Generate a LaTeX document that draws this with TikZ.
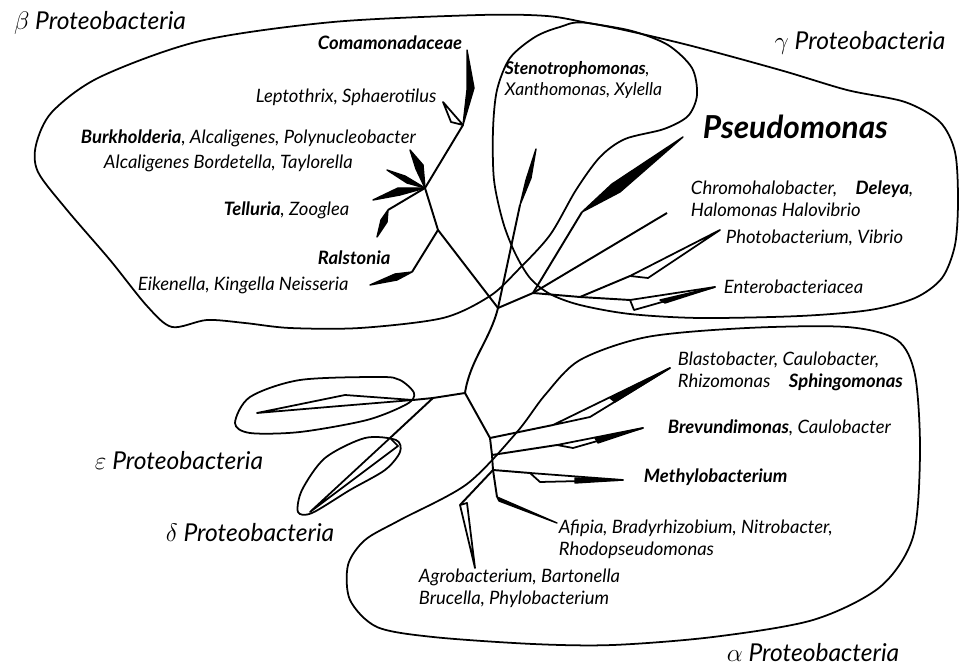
\documentclass[tikz,border=0pt]{standalone}
\usepackage{fontspec}
\setmainfont{Lato}

\begin{document}
\begin{tikzpicture}[x=0.02cm,y=-0.02cm,line width=1.1pt,line join=round,
  contorno/.style={line width=1pt},
  rama/.style={line width=1.1pt},
  cuna/.style={fill=black,line width=0.8pt},
  cunab/.style={fill=white,line width=1pt},
  especie/.style={font=\fontsize{10.5}{12.5}\selectfont\itshape,inner sep=0pt,anchor=west,align=left},
  grupo/.style={font=\fontsize{14}{16}\selectfont\itshape,inner sep=0pt}]
  \useasboundingbox (0,0) rectangle (960,668);
  % contornos de los grupos
  \draw[contorno] plot[smooth cycle] coordinates {(480,15) (547,16) (588,23) (632,31) (668,45) (692,68) (697,95) (688,116) (664,129) (625,139) (600,157) (576,190) (550,235) (518,270) (490,296) (443,318) (360,328) (290,328) (245,323) (207,320) (172,327) (147,306) (110,260) (67,210) (38,172) (36,145) (52,112) (100,77) (200,41) (333,22)};
  \draw[contorno] plot[smooth cycle] coordinates {(588,23) (680,43) (780,70) (847,90) (905,102) (940,122) (955,152) (958,200) (955,245) (942,278) (915,298) (870,310) (800,316) (700,318) (630,314) (580,305) (550,294) (530,278) (515,253) (503,222) (494,180) (493,130) (497,90) (510,58) (535,37) (560,27)};
  \draw[contorno] plot[smooth cycle] coordinates {(580,360) (647,337) (747,328) (847,327) (897,340) (915,375) (920,453) (913,537) (880,587) (813,620) (713,637) (613,645) (533,644) (433,637) (377,627) (350,600) (348,565) (365,540) (400,520) (467,484) (517,432) (545,395)};
  \draw[contorno] plot[smooth cycle] coordinates {(414,393) (400,380) (380,377) (300,380) (250,397) (235,423) (250,433) (300,432) (367,420) (407,404)};
  \draw[contorno] plot[smooth cycle] coordinates {(396,440) (365,438) (325,458) (302,490) (298,512) (312,513) (350,490) (385,470) (400,452)};

  % nodos internos
  \coordinate (kC) at (463,125);
  \coordinate (kB) at (425,188);
  \coordinate (kR) at (438,230);
  \coordinate (raiz) at (498,308);
  \coordinate (kG) at (533,293);
  \coordinate (kF) at (580,297);
  \coordinate (kA) at (465,393);
  \coordinate (kED) at (433,398);
  \coordinate (kE) at (413,400);
  \coordinate (kD) at (390,438);
  \coordinate (a1) at (490,438);
  \coordinate (a2) at (492,455);
  \coordinate (a3) at (493,470);
  \coordinate (a4) at (497,497);
  % codos y puntas
  \coordinate (cZoo) at (388,210);
  \coordinate (cRal) at (412,272);
  \coordinate (cSte) at (520,205);
  \coordinate (cPse) at (582,212);
  \coordinate (cPho) at (630,276);
  \coordinate (cEnt) at (630,300);
  \coordinate (cSph) at (553,425);
  \coordinate (cBre) at (557,445);
  \coordinate (cMet) at (530,473);
  \coordinate (cAgr) at (460,505);
  \coordinate (tChr) at (667,213);

  % ramas
  \draw[rama] (kC) -- (kB) -- (kR) -- (raiz) -- (kG) -- (kF) -- (cEnt);
  \draw[rama] (raiz) .. controls (490,340) and (470,360) .. (kA);
  \draw[rama] (kA) -- (kED) -- (kE);
  \draw[rama] (kED) -- (kD);
  \draw[rama] (kA) -- (a1) -- (a2) -- (a3) -- (a4);
  \draw[rama] (kB) -- (cZoo);
  \draw[rama] (kR) -- (cRal);
  \draw[rama] (raiz) -- (cSte);
  \draw[rama] (kG) -- (cPse);
  \draw[rama] (kG) -- (tChr);
  \draw[rama] (kF) -- (cPho);
  \draw[rama] (a1) -- (cSph);
  \draw[rama] (a2) -- (cBre);
  \draw[rama] (a3) -- (cMet);
  \draw[rama] (a3) -- (cAgr);

  % clados beta
  \filldraw[cuna] (kC) -- (474,88) -- (467,50) -- (467,90) -- cycle;
  \filldraw[cunab] (kC) -- (443,102) -- (451,122) -- cycle;
  \filldraw[cuna] (kB) -- (423,165) -- (410,150) -- (416,169) -- cycle;
  \filldraw[cuna] (kB) -- (405,176) -- (387,170) -- (407,183) -- cycle;
  \filldraw[cuna] (kB) -- (398,188) -- (373,200) -- (400,195) -- cycle;
  \filldraw[cuna] (cZoo) -- (387,222) -- (377,237) -- (381,220) -- cycle;
  \filldraw[cuna] (cRal) -- (395,274) -- (370,285) -- (397,280) -- cycle;
  % clados gamma
  \filldraw[cuna] (cSte) -- (531,178) -- (536,149) -- (526,180) -- cycle;
  \filldraw[cuna] (cPse) -- (612,184) -- (683,137) -- (620,192) -- cycle;
  \filldraw[cunab] (cPho) -- (720,230) -- (648,278) -- cycle;
  \filldraw[cunab] (cEnt) -- (715,287) -- (634,310) -- cycle;
  \filldraw[cuna] (660,300) -- (715,287) -- (665,303) -- cycle;
  % clados epsilon y delta
  \filldraw[cunab] (kE) -- (345,395) -- (257,413) -- (340,406) -- cycle;
  \filldraw[cunab] (kD) -- (310,512) -- (398,446) -- cycle;
  % clados alfa
  \filldraw[cunab] (cSph) -- (670,368) -- (590,417) -- cycle;
  \filldraw[cuna] (610,398) -- (670,368) -- (615,402) -- cycle;
  \filldraw[cunab] (cBre) -- (643,428) -- (573,448) -- cycle;
  \filldraw[cuna] (595,438) -- (643,428) -- (598,443) -- cycle;
  \filldraw[cunab] (cMet) -- (623,480) -- (540,482) -- cycle;
  \filldraw[cuna] (575,478) -- (623,480) -- (575,483) -- cycle;
  \filldraw[cuna] (a4) -- (557,523) -- (499,501) -- cycle;
  \filldraw[cunab] (cAgr) -- (475,568) -- (467,503) -- cycle;

  % nombres de los grupos
  \node[grupo] (gBeta) at (100,23) {$\beta$ Proteobacteria};
  \node[grupo] (gGamma) at (860,43) {$\gamma$ Proteobacteria};
  \node[grupo] (gEps) at (179,461) {$\varepsilon$ Proteobacteria};
  \node[grupo] (gDel) at (250,533) {$\delta$ Proteobacteria};
  \node[grupo] (gAlf) at (813,653) {$\alpha$ Proteobacteria};

  % especies
  \node[especie] (lCom) at (317,43) {\textbf{Comamonadaceae}};
  \node[especie] (lLep) at (255,97) {Leptothrix, Sphaerotilus};
  \node[especie] (lBur) at (80,138) {\textbf{Burkholderia}, Alcaligenes, Polynucleobacter};
  \node[especie] (lAlc) at (103,163) {Alcaligenes Bordetella, Taylorella};
  \node[especie] (lTel) at (223,210) {\textbf{Telluria}, Zooglea};
  \node[especie] (lRal) at (317,258) {\textbf{Ralstonia}};
  \node[especie] (lEik) at (137,285) {Eikenella, Kingella Neisseria};
  \node[especie,font=\fontsize{10}{12.5}\selectfont\itshape] (lSte) at (504,80) {\textbf{Stenotrophomonas},\\Xanthomonas, Xylella};
  \node[especie,font=\fontsize{18}{20}\selectfont\itshape\bfseries] (lPse) at (702,127) {Pseudomonas};
  \node[especie] (lChr) at (690,199) {Chromohalobacter,\quad\textbf{Deleya},\\Halomonas Halovibrio};
  \node[especie] (lPho) at (725,238) {Photobacterium, Vibrio};
  \node[especie] (lEnt) at (723,287) {Enterobacteriacea};
  \node[especie] (lSph) at (677,371) {Blastobacter, Caulobacter,\\Rhizomonas\quad\textbf{Sphingomonas}};
  \node[especie] (lBre) at (667,428) {\textbf{Brevundimonas}, Caulobacter};
  \node[especie] (lMet) at (643,477) {\textbf{Methylobacterium}};
  \node[especie] (lAfi) at (558,539) {Afipia, Bradyrhizobium, Nitrobacter,\\Rhodopseudomonas};
  \node[especie] (lAgr) at (418,588) {Agrobacterium, Bartonella\\Brucella, Phylobacterium};
\end{tikzpicture}
\end{document}
